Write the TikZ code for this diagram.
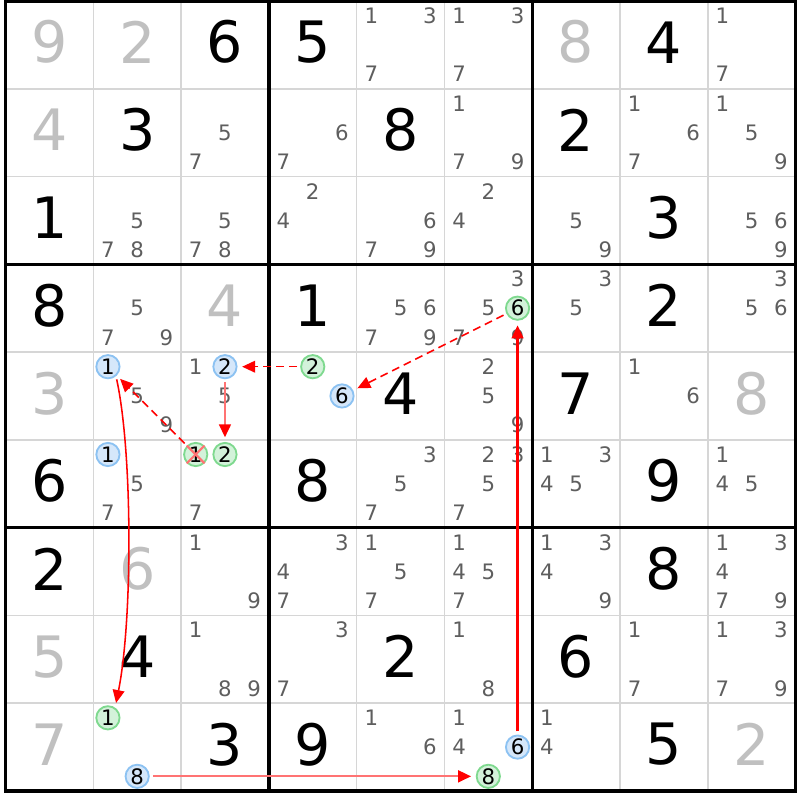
\documentclass[tikz,border=0pt]{standalone}
\usepackage{fontspec}
\setmainfont{DejaVu Sans}
\usetikzlibrary{arrows.meta}

\definecolor{cinzadado}{HTML}{C0C0C0}
\definecolor{cinzacand}{HTML}{5E5E5E}
\definecolor{linhafina}{HTML}{D6D6D6}
\definecolor{azulbg}{HTML}{D5E7FA}
\definecolor{azulbd}{HTML}{8CC2F2}
\definecolor{verdebg}{HTML}{D3F2DA}
\definecolor{verdebd}{HTML}{7FD98F}

\tikzset{
  dado/.style={font=\fontsize{18.5}{20}\selectfont, inner sep=0pt},
  dadocinza/.style={dado, text=cinzadado},
  cand/.style={font=\fontsize{6.9}{8}\selectfont, text=cinzacand, inner sep=0pt},
  marca/.style={circle, draw, line width=.6pt, minimum size=0.265cm, inner sep=0pt,
    font=\fontsize{6.9}{8}\selectfont, text=black},
  azul/.style={marca, draw=azulbd, fill=azulbg},
  verde/.style={marca, draw=verdebd, fill=verdebg},
  elo/.style={->, red, line width=.5pt, shorten >=1.5pt, shorten <=1pt},
  fraco/.style={elo, dash pattern=on 2.6pt off 1.6pt},
  forte/.style={elo, red!55, line width=.75pt, -{Triangle[length=4.2pt,width=3.8pt,color=red]}},
}

% candidato d na casa (linha, coluna)
\newcommand{\cand}[4][cand]{%
  \node[#1] (k#2#3#4) at ({#3-1+(mod(#4-1,3)+0.5)/3},{-(#2-1)-(floor((#4-1)/3)+0.5)/3}) {#4};}

\begin{document}
\begin{tikzpicture}[>={Triangle[length=4.2pt,width=3.8pt]}]
  % --- área do desenho ---
  \useasboundingbox (-0.063,0.011) rectangle (9.051,-9.103);

  % grade fina
  \foreach \i in {1,...,8} {
    \draw[linhafina, line width=.5pt] (\i,0) -- (\i,-9);
    \draw[linhafina, line width=.5pt] (0,-\i) -- (9,-\i);
  }
  % blocos 3x3
  \foreach \i in {3,6} {
    \draw[line width=1.1pt] (\i,0) -- (\i,-9);
    \draw[line width=1.1pt] (0,-\i) -- (9,-\i);
  }
  \draw[line width=1.1pt] (0,0) rectangle (9,-9);

  % dígitos resolvidos
  \foreach \r/\c/\v in {1/3/6, 1/4/5, 1/8/4, 2/2/3, 2/5/8, 2/7/2, 3/1/1, 3/8/3,
      4/1/8, 4/4/1, 4/8/2, 5/5/4, 5/7/7, 6/1/6, 6/4/8, 6/8/9,
      7/1/2, 7/8/8, 8/2/4, 8/5/2, 8/7/6, 9/3/3, 9/4/9, 9/8/5}
    \node[dado] (g\r\c) at (\c-0.5,0.53-\r) {\v};
  % dígitos dados (cinza)
  \foreach \r/\c/\v in {1/1/9, 1/2/2, 1/7/8, 2/1/4, 4/3/4, 5/1/3, 5/9/8,
      7/2/6, 8/1/5, 9/1/7, 9/9/2}
    \node[dadocinza] (g\r\c) at (\c-0.5,0.53-\r) {\v};

  % candidatos
  \foreach \r/\c/\l in {1/5/{1,3,7}, 1/6/{1,3,7}, 1/9/{1,7},
      2/3/{5,7}, 2/4/{6,7}, 2/6/{1,7,9}, 2/8/{1,6,7}, 2/9/{1,5,9},
      3/2/{5,7,8}, 3/3/{5,7,8}, 3/4/{2,4}, 3/5/{6,7,9}, 3/6/{2,4}, 3/7/{5,9}, 3/9/{5,6,9},
      4/2/{5,7,9}, 4/5/{5,6,7,9}, 4/6/{3,5,7,9}, 4/7/{3,5}, 4/9/{3,5,6},
      5/2/{5,9}, 5/3/{1,5}, 5/6/{2,5,9}, 5/8/{1,6},
      6/2/{5,7}, 6/3/{7}, 6/5/{3,5,7}, 6/6/{2,3,5,7}, 6/7/{1,3,4,5}, 6/9/{1,4,5},
      7/3/{1,9}, 7/4/{3,4,7}, 7/5/{1,5,7}, 7/6/{1,4,5,7}, 7/7/{1,3,4,9}, 7/9/{1,3,4,7,9},
      8/3/{1,8,9}, 8/4/{3,7}, 8/6/{1,8}, 8/8/{1,7}, 8/9/{1,3,7,9},
      9/5/{1,6}, 9/6/{1,4}, 9/7/{1,4}}
    \foreach \d in \l {\cand{\r}{\c}{\d}};

  % candidatos marcados
  \cand[verde]{4}{6}{6}
  \cand[azul]{5}{4}{6}
  \cand[verde]{5}{4}{2}
  \cand[azul]{5}{3}{2}
  \cand[verde]{6}{3}{2}
  \cand[verde]{6}{3}{1}
  \cand[azul]{5}{2}{1}
  \cand[azul]{6}{2}{1}
  \cand[verde]{9}{2}{1}
  \cand[azul]{9}{2}{8}
  \cand[verde]{9}{6}{8}
  \cand[azul]{9}{6}{6}
  % candidato eliminado
  \draw[red!55, line width=.7pt] (k631.45) -- (k631.-135) (k631.135) -- (k631.-45);

  % --- cadeia ---
  \draw[fraco] (k466) -- (k546);
  \draw[fraco] (k542) -- (k532);
  \draw[forte] (k532) -- (k632);
  \draw[fraco] (k631) -- (k521);
  \draw[elo] (k521.-50) .. controls +(0.19,-0.87) and +(0.2,1.0) .. (k921.55);
  \draw[forte] (k928) -- (k968);
  \draw[elo, line width=.7pt] (k966) -- (k466);
\end{tikzpicture}
\end{document}
